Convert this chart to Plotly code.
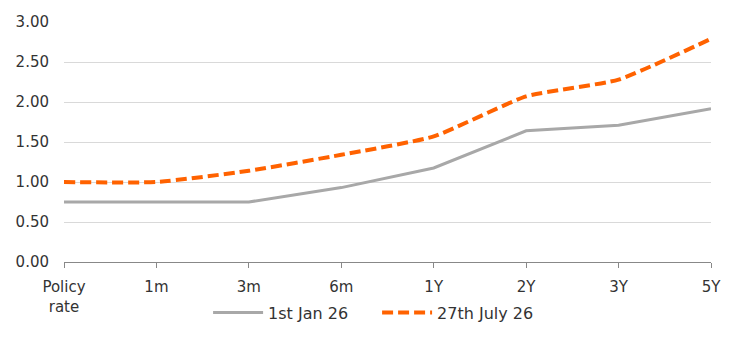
import plotly.graph_objects as go

categories = ["Policy<br>rate", "1m", "3m", "6m", "1Y", "2Y", "3Y", "5Y"]
jan_values = [0.75, 0.75, 0.75, 0.93, 1.175, 1.64, 1.71, 1.915]
july_values = [1.00, 1.00, 1.14, 1.34, 1.57, 2.07, 2.28, 2.79]
y_ticks = [0, 0.5, 1.0, 1.5, 2.0, 2.5, 3.0]
y_labels = ["0.00", "0.50", "1.00", "1.50", "2.00", "2.50", "3.00"]

fig = go.Figure()
fig.add_trace(go.Scatter(
    x=categories, y=jan_values, mode="lines", name="1st Jan 26",
    line=dict(color="#a8a8a8", width=3),
))
fig.add_trace(go.Scatter(
    x=categories, y=july_values, mode="lines", name="27th July 26",
    line=dict(color="#ff6200", width=4, dash="11px,5px", shape="spline", smoothing=0.5),
))

fig.update_layout(
    width=744, height=343,
    margin=dict(l=64, r=33, t=22, b=81),
    paper_bgcolor="white", plot_bgcolor="white",
    font=dict(family="DejaVu Sans", size=15, color="#333333"),
    showlegend=True,
    legend=dict(orientation="h", x=0.2227, xanchor="left", y=-0.14, yanchor="top",
                font=dict(size=16), itemwidth=50, entrywidth=104,
                entrywidthmode="pixels"),
    xaxis=dict(
        type="category", range=[0, 7], showgrid=False,
        showline=True, linecolor="#888888", linewidth=1,
        ticks="outside", ticklen=5, tickcolor="#888888",
        tickfont=dict(size=15), ticklabelstandoff=6,
    ),
    yaxis=dict(
        range=[0, 3.0], tickvals=y_ticks, ticktext=y_labels,
        showgrid=True, gridcolor="#d9d9d9", gridwidth=1,
        zeroline=False, showline=False, ticks="",
        tickfont=dict(size=15), ticklabelstandoff=14,
    ),
)

fig.write_html("out.html")
